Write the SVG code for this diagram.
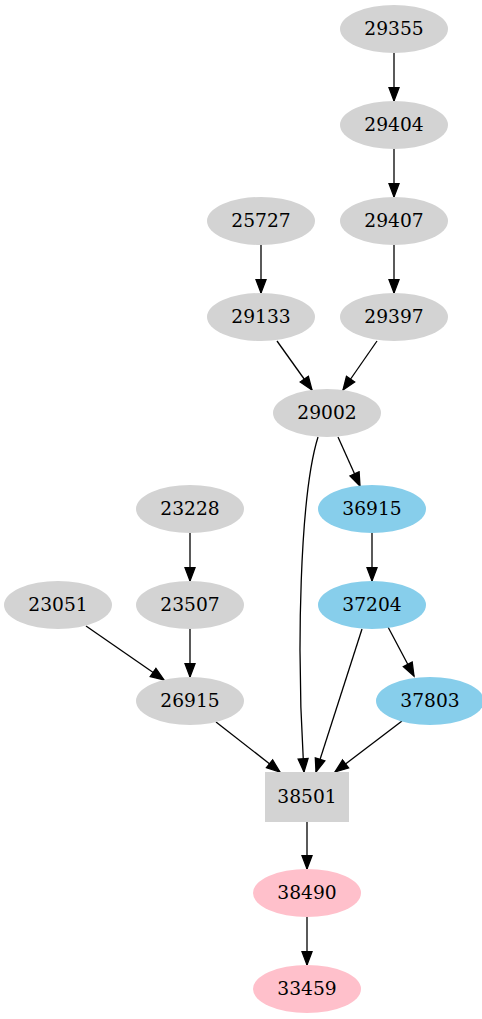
<svg xmlns="http://www.w3.org/2000/svg" width="482" height="1019" viewBox="0 0 482 1019">
<defs>
<style>
.n ellipse,.n rect{stroke:none}
.g{fill:#d3d3d3}
.b{fill:#87ceeb}
.p{fill:#ffc0cb}
text{font-family:"DejaVu Serif","Liberation Serif",serif;font-size:18.67px;fill:#000;text-anchor:middle}
.e path{fill:none;stroke:#000;stroke-width:1.3;marker-end:url(#ah)}
</style>
<marker id="ah" viewBox="-1 -7 16 14" refX="13.3" refY="0" markerWidth="16" markerHeight="14" markerUnits="userSpaceOnUse" orient="auto">
<path d="M0,-5 L13.3,0 L0,5 z" fill="#000" stroke="#000" stroke-width="1.3"/>
</marker>
</defs>
<rect width="482" height="1019" fill="#fff"/>
<g class="e" id="edges">
<path d="M394,53 L394,101"/>
<path d="M394,149 L394,197"/>
<path d="M394,245 L394,293"/>
<path d="M261,245 L261,293"/>
<path d="M277,341 L312,390"/>
<path d="M377,341 L343,390"/>
<path d="M338,437 L360,486"/>
<path d="M318,437 C300,495 296,650 304,772"/>
<path d="M190,533 L190,581"/>
<path d="M372,533 L372,581"/>
<path d="M190,629 L190,677"/>
<path d="M86,626 L164,680"/>
<path d="M362,629 L316,772"/>
<path d="M388,627 L414,676"/>
<path d="M216,722 L280,772"/>
<path d="M402,721 L335,772"/>
<path d="M307,822 L307,869"/>
<path d="M307,917 L307,965"/>
</g>
<g class="n" id="n29355"><ellipse class="g" cx="394" cy="29" rx="54" ry="24"/><text x="394" y="35">29355</text></g>
<g class="n" id="n29404"><ellipse class="g" cx="394" cy="125" rx="54" ry="24"/><text x="394" y="131">29404</text></g>
<g class="n" id="n29407"><ellipse class="g" cx="394" cy="221" rx="54" ry="24"/><text x="394" y="227">29407</text></g>
<g class="n" id="n25727"><ellipse class="g" cx="261" cy="221" rx="54" ry="24"/><text x="261" y="227">25727</text></g>
<g class="n" id="n29397"><ellipse class="g" cx="394" cy="317" rx="54" ry="24"/><text x="394" y="323">29397</text></g>
<g class="n" id="n29133"><ellipse class="g" cx="261" cy="317" rx="54" ry="24"/><text x="261" y="323">29133</text></g>
<g class="n" id="n29002"><ellipse class="g" cx="327" cy="413" rx="54" ry="24"/><text x="327" y="419">29002</text></g>
<g class="n" id="n23228"><ellipse class="g" cx="190" cy="509" rx="54" ry="24"/><text x="190" y="515">23228</text></g>
<g class="n" id="n36915"><ellipse class="b" cx="372" cy="509" rx="54" ry="24"/><text x="372" y="515">36915</text></g>
<g class="n" id="n23051"><ellipse class="g" cx="58" cy="605" rx="54" ry="24"/><text x="58" y="611">23051</text></g>
<g class="n" id="n23507"><ellipse class="g" cx="190" cy="605" rx="54" ry="24"/><text x="190" y="611">23507</text></g>
<g class="n" id="n37204"><ellipse class="b" cx="372" cy="605" rx="54" ry="24"/><text x="372" y="611">37204</text></g>
<g class="n" id="n26915"><ellipse class="g" cx="190" cy="701" rx="54" ry="24"/><text x="190" y="707">26915</text></g>
<g class="n" id="n37803"><ellipse class="b" cx="430" cy="701" rx="54" ry="24"/><text x="430" y="707">37803</text></g>
<g class="n" id="n38501"><rect class="g" x="265" y="772" width="84" height="50"/><text x="307" y="803">38501</text></g>
<g class="n" id="n38490"><ellipse class="p" cx="307" cy="893" rx="54" ry="24"/><text x="307" y="899">38490</text></g>
<g class="n" id="n33459"><ellipse class="p" cx="307" cy="989" rx="54" ry="24"/><text x="307" y="995">33459</text></g>
</svg>
